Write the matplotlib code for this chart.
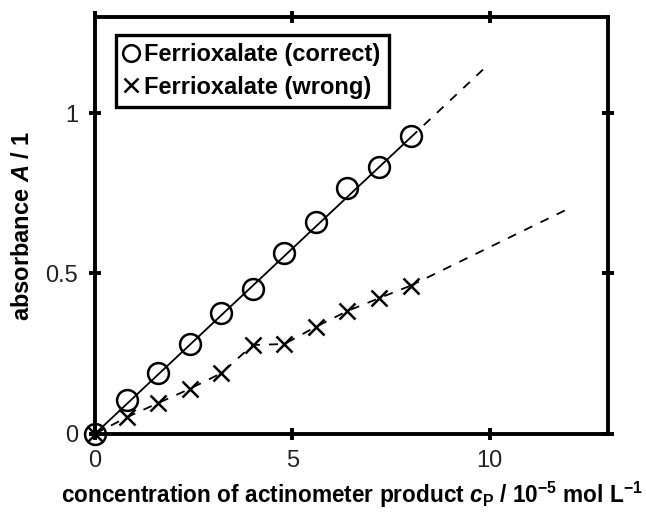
import numpy as np
import matplotlib
matplotlib.use('Agg')
import matplotlib.pyplot as plt

plt.rcParams['font.family'] = ['Liberation Sans', 'DejaVu Sans']
plt.rcParams['mathtext.fontset'] = 'custom'
plt.rcParams['mathtext.it'] = 'Liberation Sans:italic:bold'
plt.rcParams['mathtext.bf'] = 'Liberation Sans:bold'
plt.rcParams['mathtext.rm'] = 'Liberation Sans:bold'

# concentration of actinometer product, 10^-5 mol/L
conc = [0, 0.8, 1.6, 2.4, 3.2, 4.0, 4.8, 5.6, 6.4, 7.2, 8.0]
# absorbance, correct evaluation
abs_correct = [0, 0.104, 0.189, 0.279, 0.378, 0.451, 0.563, 0.661, 0.767, 0.833, 0.928]
# absorbance, wrong evaluation
abs_wrong = [0, 0.051, 0.096, 0.140, 0.189, 0.277, 0.280, 0.334, 0.383, 0.423, 0.462]

# fitted slopes (extrapolation lines)
slope_correct = 0.1155
slope_wrong = 0.0585

fig = plt.figure(figsize=(6.46, 5.14), dpi=100)
ax = fig.add_axes([0.147, 0.156, 0.794, 0.811])

# correct: solid fit over data, dashed extrapolation
xc = np.array([0, 8.0])
ax.plot(xc, slope_correct*xc, '-', color='k', lw=1.3)
xe = np.array([8.0, 10.0])
ax.plot(xe, slope_correct*xe, '--', color='k', lw=1.3, dashes=(5, 5))
ax.plot(conc, abs_correct, 'o', mfc='none', mec='k', ms=15, mew=1.8,
        label='Ferrioxalate (correct)', clip_on=False, zorder=5)

# wrong: dashed through data, then extrapolation
ax.plot(conc, abs_wrong, '--', color='k', lw=1.3, dashes=(5, 5))
xw = np.array([8.0, 12.0])
ax.plot(xw, [abs_wrong[-1], slope_wrong*12.0], '--', color='k', lw=1.3, dashes=(5, 5))
ax.plot(conc, abs_wrong, 'x', color='k', ms=12, mew=1.8,
        label='Ferrioxalate (wrong)', clip_on=False, zorder=5)

ax.set_xlim(0, 13)
ax.set_ylim(0, 1.3)
ax.set_xticks([0, 5, 10])
ax.set_yticks([0, 0.5, 1])
ax.set_xticklabels(['0', '5', '10'])
ax.set_yticklabels(['0', '0.5', '1'])
ax.tick_params(direction='inout', length=8, width=2.8, top=True, right=True,
               labelsize=17, pad=8, labelcolor='#222222')
for s in ax.spines.values():
    s.set_linewidth(2.8)

ax.set_xlabel(r'concentration of actinometer product $c_\mathrm{P}$ / 10$^{-5}$ mol L$^{-1}$',
              fontsize=16.3, fontweight='bold', labelpad=5)
ax.set_ylabel(r'absorbance $A$ / 1', fontsize=17, fontweight='bold', labelpad=8)

leg = ax.legend(loc='upper left', bbox_to_anchor=(0.018, 0.985), handlelength=0.6,
                handletextpad=0.25, borderpad=0.35, labelspacing=0.4,
                prop={'weight': 'bold', 'size': 17}, fancybox=False, framealpha=1,
                markerscale=0.8)
leg.get_frame().set_edgecolor('k')
leg.get_frame().set_linewidth(2.4)

plt.savefig('out.png', dpi=100)
